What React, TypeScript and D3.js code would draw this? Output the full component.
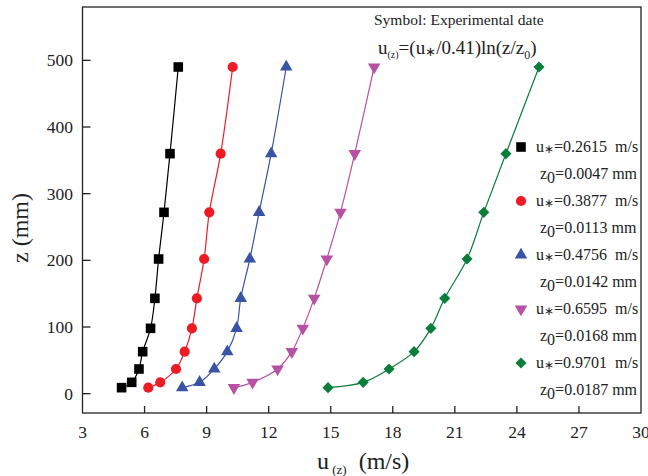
import React from "react";
import * as d3 from "d3";

// heights (mm) shared by every profile
const zLevels = [9, 17, 37, 63, 98, 143, 202, 272, 360, 490];

// wind speed u(z) in m/s, one array per friction velocity
const uBlack = [4.89, 5.38, 5.73, 5.91, 6.29, 6.5, 6.68, 6.94, 7.23, 7.63];
const uRed = [6.18, 6.76, 7.52, 7.94, 8.29, 8.53, 8.88, 9.13, 9.68, 10.26];
const uBlue = [7.82, 8.66, 9.37, 10.0, 10.45, 10.65, 11.09, 11.54, 12.12, 12.85];
const uPink = [10.32, 11.22, 12.43, 13.12, 13.65, 14.2, 14.81, 15.47, 16.16, 17.1];
const uGreen = [14.87, 16.57, 17.82, 19.03, 19.84, 20.51, 21.59, 22.4, 23.47, 25.07];

const uStars = ["0.2615", "0.3877", "0.4756", "0.6595", "0.9701"];
const z0Values = ["0.0047", "0.0113", "0.0142", "0.0168", "0.0187"];

const xTicks = [3, 6, 9, 12, 15, 18, 21, 24, 27, 30];
const yTicks = [0, 100, 200, 300, 400, 500];

const series = [
  { u: uBlack, color: "#000000", shape: "square" },
  { u: uRed, color: "#ed1c24", shape: "circle" },
  { u: uBlue, color: "#3a53a4", shape: "up" },
  { u: uPink, color: "#b751a3", shape: "down" },
  { u: uGreen, color: "#0a7d3b", shape: "diamond" },
];

const W = 648, H = 476;
const left = 82.5, right = 641, top = 7, bottom = 413;
const font = "'Liberation Serif', 'Times New Roman', serif";
const axisColor = "#222";
const NB = "\u00a0";

function markerPath(shape: string) {
  if (shape === "square") return d3.symbol(d3.symbolSquare, 92)()!;
  if (shape === "circle") return d3.symbol(d3.symbolCircle, 82)()!;
  if (shape === "diamond") return d3.symbol(d3.symbolSquare, 62)()!;
  return d3.symbol(d3.symbolTriangle, 68)()!;
}

function markerRotate(shape: string) {
  if (shape === "diamond") return 45;
  if (shape === "down") return 180;
  return 0;
}

export default function App() {
  const x = d3.scaleLinear().domain([3, 30]).range([left, right]);
  const y = d3.scaleLinear().domain([-29, 580]).range([bottom, top]);

  const line = d3
    .line<[number, number]>()
    .x(d => x(d[0]))
    .y(d => y(d[1]))
    .curve(d3.curveCatmullRom.alpha(0.5));

  const legendX = 521;
  const legendY0 = 147;
  const legendStep = 54;

  return (
    <svg
      width={W}
      height={H}
      style={{ position: "absolute", left: 0, top: 0, background: "#fff" }}
      fontFamily={font}
    >
      <rect x={0} y={0} width={W} height={H} fill="#fff" />

      {/* curves and markers */}
      {series.map((s, i) => {
        const pts = s.u.map((u, k) => [u, zLevels[k]] as [number, number]);
        return (
          <g key={i}>
            <path d={line(pts)!} fill="none" stroke={s.color} strokeWidth={1.2} />
            {pts.map((p, k) => (
              <path
                key={k}
                d={markerPath(s.shape)}
                fill={s.color}
                transform={`translate(${x(p[0])},${y(p[1])}) rotate(${markerRotate(s.shape)})`}
              />
            ))}
          </g>
        );
      })}

      {/* frame */}
      <rect
        x={left}
        y={top}
        width={right - left}
        height={bottom - top}
        fill="none"
        stroke={axisColor}
        strokeWidth={1.3}
      />

      {/* x axis ticks */}
      {xTicks.map(t => (
        <g key={t}>
          {t !== 3 && t !== 30 && (
            <line x1={x(t)} x2={x(t)} y1={bottom} y2={bottom - 7} stroke={axisColor} strokeWidth={1.3} />
          )}
          <text x={x(t)} y={438} textAnchor="middle" fontSize={17.5} fill="#222">
            {t}
          </text>
        </g>
      ))}

      {/* y axis ticks */}
      {yTicks.map(t => (
        <g key={t}>
          <line x1={left} x2={left + 8} y1={y(t)} y2={y(t)} stroke={axisColor} strokeWidth={1.3} />
          <text x={73} y={y(t) + 6} textAnchor="end" fontSize={17.5} fill="#222">
            {t}
          </text>
        </g>
      ))}

      {/* axis titles */}
      <text x={317} y={469} fontSize={24} fill="#222">
        u
        <tspan fontSize={13} dy={5}>{`${NB}(z)`}</tspan>
        <tspan dy={-5}>{`${NB}${NB}(m/s)`}</tspan>
      </text>
      <text
        transform={`translate(28,228) rotate(-90)`}
        textAnchor="middle"
        fontSize={24}
        fill="#222"
      >
        z (mm)
      </text>

      {/* annotation */}
      <text x={374} y={25} fontSize={15.5} fill="#222">
        Symbol: Experimental date
      </text>
      <text x={378} y={54} fontSize={19} fill="#222">
        u
        <tspan fontSize={10} dy={4}>(z)</tspan>
        <tspan dy={-4}>=(u</tspan>
        <tspan fontSize={13} dy={2}>∗</tspan>
        <tspan dy={-2}>/0.41)ln(z/z</tspan>
        <tspan fontSize={12} dy={5}>0</tspan>
        <tspan dy={-5}>)</tspan>
      </text>

      {/* legend */}
      {series.map((s, i) => {
        const ly = legendY0 + i * legendStep;
        return (
          <g key={i}>
            <path
              d={markerPath(s.shape)}
              fill={s.color}
              transform={`translate(${legendX},${ly}) rotate(${markerRotate(s.shape)})`}
            />
            <text x={536} y={ly + 5} fontSize={16} fill="#222">
              u
              <tspan fontSize={12} dy={1}>∗</tspan>
              <tspan dy={-1}>{`=${uStars[i]}${NB}${NB}m/s`}</tspan>
            </text>
            <text x={540} y={ly + 32} fontSize={16} fill="#222">
              z
              <tspan fontSize={16} dy={4}>0</tspan>
              <tspan dy={-4}>{`=${z0Values[i]} mm`}</tspan>
            </text>
          </g>
        );
      })}
    </svg>
  );
}
